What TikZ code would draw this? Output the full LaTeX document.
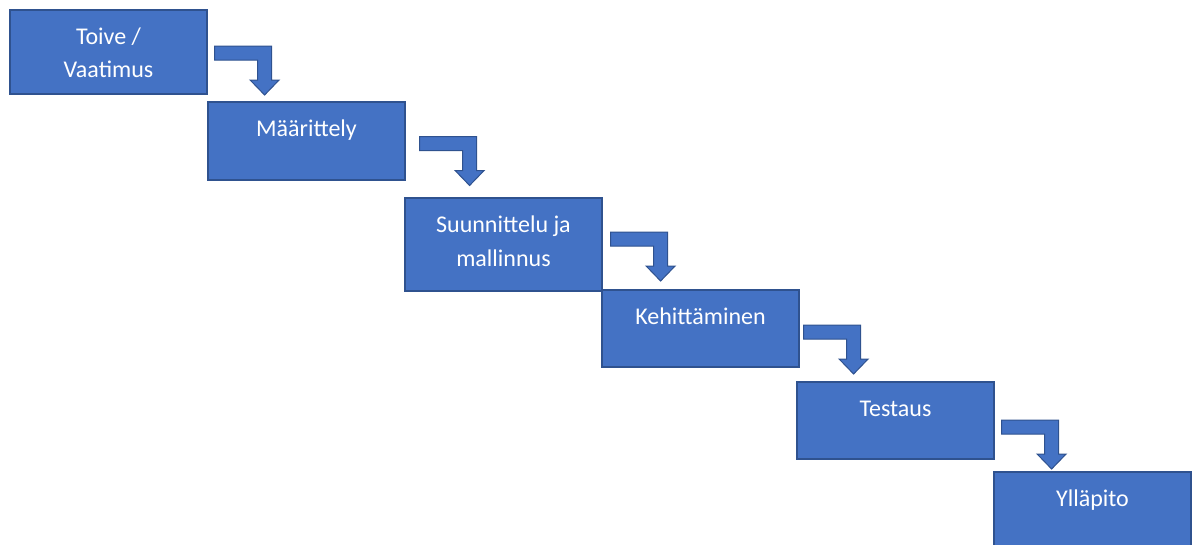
\documentclass[tikz,border=0pt]{standalone}
\usepackage{fontspec}
\setmainfont{Carlito}
\usetikzlibrary{calc}
\definecolor{stepfill}{HTML}{4472C4}
\definecolor{stepline}{HTML}{2F528F}
\tikzset{
  stepbox/.style={draw=stepline, line width=1.2pt, fill=stepfill,
    minimum width=197pt, inner sep=0pt},
  steptext/.style={text=white, align=center, anchor=north, inner sep=0pt,
    font=\fontsize{24}{33.4}\selectfont},
  bentarrow/.style={fill=stepfill, draw=stepline, line width=1pt, line join=miter}
}
% bent block arrow whose bar starts at the given top-left point
\newcommand\stepdownarrow[1]{%
  \path[bentarrow] #1 -- ++(57,0) -- ++(0,34) -- ++(7.5,0) -- ++(-14.5,15)
    -- ++(-14.5,-15) -- ++(7.5,0) -- ++(0,-20) -- ++(-43,0) -- cycle;}
\begin{document}
\begin{tikzpicture}[x=1pt,y=-1pt]
  \useasboundingbox (0,0) rectangle (1192,544);
  \clip (0,0) rectangle (1192,544);

  % process steps
  \node[stepbox, minimum height=84pt] (b1) at (108.5,52)   {};
  \node[stepbox, minimum height=78pt] (b2) at (306.5,141)  {};
  \node[stepbox, minimum height=93pt] (b3) at (503.5,244.5) {};
  \node[stepbox, minimum height=77pt] (b4) at (700.5,328.5) {};
  \node[stepbox, minimum height=77pt] (b5) at (895.5,420.5) {};
  \node[stepbox, minimum height=78pt] (b6) at (1092.5,511)  {};

  % step labels, hung from the top edge of each box
  \node[steptext] (t1) at ($(b1.north)+(0,11.5)$) {\strut Toive /\\Vaatimus};
  \node[steptext] (t2) at ($(b2.north)+(0,12)$) {\strut Määrittely};
  \node[steptext] (t3) at ($(b3.north)+(0,12)$) {\strut Suunnittelu ja\\mallinnus};
  \node[steptext] (t4) at ($(b4.north)+(0,11.5)$) {\strut Kehittäminen};
  \node[steptext] (t5) at ($(b5.north)+(0,12)$) {\strut Testaus};
  \node[steptext] (t6) at ($(b6.north)+(0,12)$) {\strut Ylläpito};

  % arrows stepping down to the next box
  \stepdownarrow{($(b1.east)+(7,-6)$)}
  \stepdownarrow{($(b2.east)+(14,-4.5)$)}
  \stepdownarrow{($(b3.east)+(8,-12.5)$)}
  \stepdownarrow{($(b4.east)+(4,-3.5)$)}
  \stepdownarrow{($(b5.east)+(7,-0.5)$)}
\end{tikzpicture}
\end{document}
